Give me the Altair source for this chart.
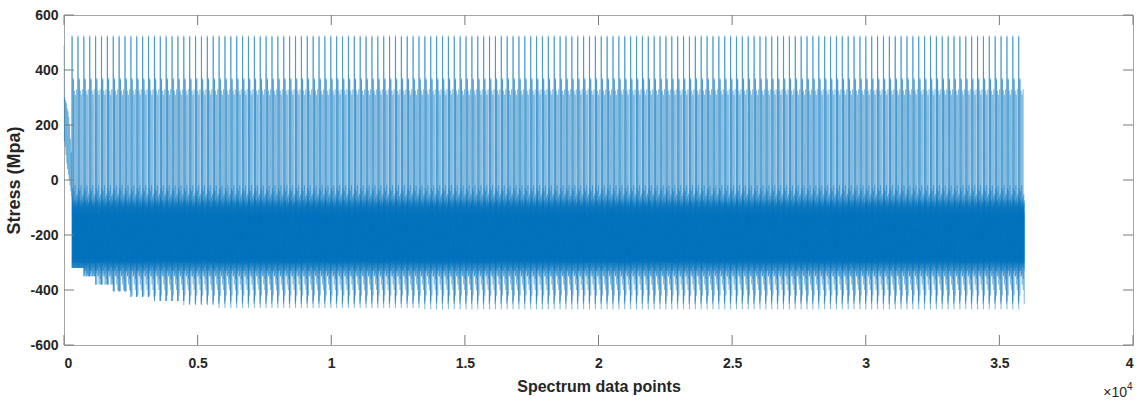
import altair as alt
import pandas as pd

# --- data -------------------------------------------------------------
# start-up transient reversals (MPa), first ~300 data points
startup = [490, 140, 300, 120, 290, 90, 280, 60, 260, 40, 250, 20, 230, 0,
           200, -20, 150, -40, 100, -60]
startup_len = 300

# one repeated load block of the spectrum (reversals, MPa)
block = [525, -470, 520, -440,
         -60, -310, -90, -300, -30, -340, -100, -290, -70, -320,
         370, -420, 365, -330,
         -120, -300, -80, -310, -40, -300, -110, -330, -75, -295,
         325, -350,
         -95, -350, -85, -305, -120, -290, -20, -320, -100, -300,
         310, -380,
         -70, -340, -90, -310, -130, -285, -60, -315, -100, -300,
         330, -400,
         -80, -360, -95, -305, -110, -290, -50, -325, -85, -300,
         -120, -450, -75, -330]
block_len = 220
n_blocks = 162

# lowest trough reached, by group of blocks (start block, floor MPa)
floor_groups = [(0, -320), (2, -350), (4, -380), (7, -405), (10, -425),
                (14, -440), (19, -455), (25, -465), (60, -472), (110, -480)]

x_ticks = [0, 5000, 10000, 15000, 20000, 25000, 30000, 35000, 40000]
y_ticks = [-600, -400, -200, 0, 200, 400, 600]

# --- build table ------------------------------------------------------
xs, ys = [], []
for i, v in enumerate(startup):
    xs.append(i * startup_len / len(startup))
    ys.append(v)


def floor_for(b):
    f = floor_groups[0][1]
    for start, val in floor_groups:
        if b >= start:
            f = val
    return f


for b in range(n_blocks):
    f = floor_for(b)
    x0 = startup_len + b * block_len
    for j, v in enumerate(block):
        xs.append(x0 + j * block_len / len(block))
        ys.append(max(v, f))

df = pd.DataFrame({"x": xs, "y": ys})
xt = pd.DataFrame({"t": x_ticks})
yt = pd.DataFrame({"t": y_ticks})

W, H = 1069, 330
FONT = "Liberation Sans"
TXT = "#262626"
TICK = "#7a7a7a"

xscale = alt.Scale(domain=[0, 40000], nice=False, zero=False)
yscale = alt.Scale(domain=[-600, 600], nice=False, zero=False)

line = alt.Chart(df).mark_line(color="#0072BD", strokeWidth=0.3).encode(
    x=alt.X("x:Q", scale=xscale,
            axis=alt.Axis(values=x_ticks, title="Spectrum data points",
                          labelExpr="datum.value / 10000 + ''",
                          ticks=False, domain=False, grid=False,
                          labelPadding=11, titlePadding=8,
                          labelFont=FONT, labelFontSize=14, labelFontWeight="bold",
                          labelColor=TXT, titleFont=FONT, titleFontSize=16,
                          titleFontWeight="bold", titleColor=TXT)),
    y=alt.Y("y:Q", scale=yscale,
            axis=alt.Axis(values=y_ticks, title="Stress (Mpa)",
                          labelExpr="datum.value + ''",
                          ticks=False, domain=False, grid=False,
                          labelPadding=6, titlePadding=6,
                          labelFont=FONT, labelFontSize=14, labelFontWeight="bold",
                          labelColor=TXT, titleFont=FONT, titleFontSize=18,
                          titleFontWeight="bold", titleColor=TXT)),
)

tick_bottom = alt.Chart(xt).mark_rule(color=TICK, strokeWidth=1).encode(
    x=alt.X("t:Q", scale=xscale), y=alt.value(H), y2=alt.value(H - 10))
tick_top = alt.Chart(xt).mark_rule(color=TICK, strokeWidth=1).encode(
    x=alt.X("t:Q", scale=xscale), y=alt.value(0), y2=alt.value(10))
tick_left = alt.Chart(yt).mark_rule(color=TICK, strokeWidth=1).encode(
    y=alt.Y("t:Q", scale=yscale), x=alt.value(0), x2=alt.value(10))
tick_right = alt.Chart(yt).mark_rule(color=TICK, strokeWidth=1).encode(
    y=alt.Y("t:Q", scale=yscale), x=alt.value(W), x2=alt.value(W - 10))

exp_base = alt.Chart(pd.DataFrame({"s": ["×10"]})).mark_text(
    font=FONT, fontSize=14, color=TXT, align="right", baseline="alphabetic"
).encode(x=alt.value(W - 6), y=alt.value(H + 52), text="s:N")
exp_pow = alt.Chart(pd.DataFrame({"s": ["4"]})).mark_text(
    font=FONT, fontSize=10, color=TXT, align="left", baseline="alphabetic"
).encode(x=alt.value(W - 6), y=alt.value(H + 45), text="s:N")

chart = alt.layer(line, tick_bottom, tick_top, tick_left, tick_right,
                  exp_base, exp_pow).properties(
    width=W, height=H, autosize=alt.AutoSizeParams(type="none"),
    padding={"left": 64, "top": 15, "right": 10, "bottom": 60},
    background="white",
).configure_view(stroke="#a6a6a6", strokeWidth=1)

chart.save("out.html", embed_options={"renderer": "svg", "actions": False})
